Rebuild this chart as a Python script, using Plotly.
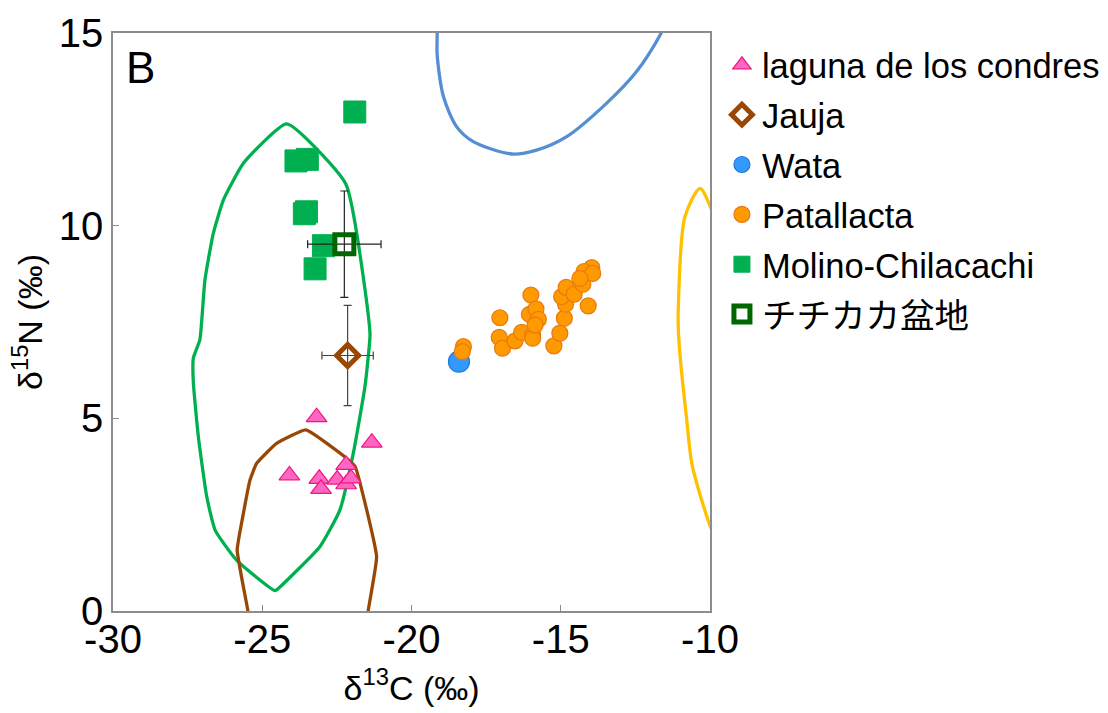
import plotly.graph_objects as go

# ---- data ----
laguna_x = [-23.18, -21.33, -24.09, -23.09, -23.03, -22.19, -22.49, -22.19, -22.03]
laguna_y = [5.03, 4.37, 3.52, 3.43, 3.17, 3.79, 3.41, 3.29, 3.44]

jauja_x = [-22.14]
jauja_y = [6.63]
jauja_xerr = [0.86]
jauja_yerr = [1.30]

wata_x = [-18.41]
wata_y = [6.47]

patallacta_x = [-18.26, -18.30, -17.04, -17.06, -16.95, -16.53, -16.31, -16.00, -16.05, -15.83,
                -15.75, -15.94, -15.94, -15.86, -15.23, -15.03, -14.88, -14.84, -14.97, -14.82,
                -14.55, -14.08, -14.26, -13.96, -14.22, -13.93, -14.36]
patallacta_y = [6.86, 6.73, 7.61, 7.10, 6.82, 7.01, 7.23, 8.20, 7.70, 7.84,
                7.57, 7.16, 7.08, 7.42, 6.88, 7.21, 7.60, 7.96, 8.16, 8.40,
                8.22, 7.92, 8.48, 8.91, 8.81, 8.76, 8.63]

molino_x = [-21.90, -23.87, -23.49, -23.59, -23.52, -22.95, -23.23]
molino_y = [12.95, 11.68, 11.72, 10.31, 10.36, 9.48, 8.88]

titicaca_x = [-22.25]
titicaca_y = [9.52]
titicaca_xerr = [1.23]
titicaca_yerr = [1.38]

# contour outlines
green_cx = [-24.18, -22.20, -21.39, -21.45, -21.56, -21.95, -22.40, -23.07, -24.40, -24.57,
            -25.86, -26.58, -26.86, -27.14, -27.31, -27.31, -27.09, -26.92, -26.64, -26.30,
            -25.63, -24.18]
green_cy = [12.64, 11.08, 7.20, 6.60, 5.82, 4.09, 2.62, 1.67, 0.63, 0.53,
            1.32, 2.10, 2.97, 4.52, 5.95, 6.56, 7.04, 8.59, 9.80, 10.67,
            11.62, 12.64]

brown_cx = [-25.30, -25.48, -25.84, -25.63, -25.41, -25.19, -24.52, -23.54, -22.17, -21.89,
            -21.17, -21.45, -21.52]
brown_cy = [-1.00, 0.00, 1.58, 2.54, 3.40, 3.83, 4.35, 4.70, 3.96, 3.75,
            1.41, 0.00, -1.00]

blue_cx = [-19.14, -19.14, -19.14, -18.93, -18.49, -17.93, -16.64, -15.81, -14.80, -13.46,
           -12.46, -11.67, -11.40]
blue_cy = [15.50, 14.95, 14.43, 13.35, 12.57, 12.18, 11.86, 11.96, 12.31, 13.18,
           14.00, 14.95, 15.40]

yellow_cx = [-9.80, -9.94, -10.33, -10.84, -11.06, -11.06, -10.98, -10.78, -10.61, -10.28,
             -9.94, -9.80]
yellow_cy = [10.20, 10.41, 10.97, 10.23, 7.90, 7.29, 6.43, 4.96, 3.83, 2.88,
             2.10, 1.90]

x_ticks = [-30, -25, -20, -15, -10]
y_ticks = [0, 5, 10, 15]

FONT = "Arial, Liberation Sans, Noto Sans CJK JP, sans-serif"

fig = go.Figure()

# contours (no legend)
for cx, cy, col, sm in [(green_cx, green_cy, "#00B050", 0.45), (brown_cx, brown_cy, "#984806", 0.35),
                        (blue_cx, blue_cy, "#558ED5", 0.8), (yellow_cx, yellow_cy, "#FFC000", 0.8)]:
    fig.add_trace(go.Scatter(x=cx, y=cy, mode="lines",
                             line=dict(color=col, width=3.3, shape="spline", smoothing=sm),
                             showlegend=False, hoverinfo="skip"))

fig.add_trace(go.Scatter(x=laguna_x, y=laguna_y, mode="markers", name="laguna de los condres",
                         legendgroup="g1",
                         marker=dict(symbol="triangle-up", size=18, color="#FF66C4",
                                     line=dict(color="#F0167E", width=1.2))))
fig.add_trace(go.Scatter(x=jauja_x, y=jauja_y, mode="markers", name="Jauja", legendgroup="g2",
                         error_x=dict(type="data", array=jauja_xerr, color="#444444", thickness=1.2, width=4),
                         error_y=dict(type="data", array=jauja_yerr, color="#444444", thickness=1.2, width=4),
                         marker=dict(symbol="diamond", size=17, color="rgba(255,255,255,0)",
                                     line=dict(color="#984806", width=5))))
fig.add_trace(go.Scatter(x=wata_x, y=wata_y, mode="markers", name="Wata", legendgroup="g3",
                         marker=dict(symbol="circle", size=21, color="#3399FF",
                                     line=dict(color="#1F78D8", width=1.2))))
fig.add_trace(go.Scatter(x=patallacta_x, y=patallacta_y, mode="markers", name="Patallacta",
                         legendgroup="g4",
                         marker=dict(symbol="circle", size=16, color="#FF9900",
                                     line=dict(color="#E87A0C", width=1.2))))
fig.add_trace(go.Scatter(x=molino_x, y=molino_y, mode="markers", name="Molino-Chilacachi",
                         legendgroup="g5",
                         marker=dict(symbol="square", size=22, color="#00B050",
                                     line=dict(color="#00B050", width=1))))
fig.add_trace(go.Scatter(x=titicaca_x, y=titicaca_y, mode="markers", name="チチカカ盆地",
                         legendgroup="g6",
                         error_x=dict(type="data", array=titicaca_xerr, color="#222222", thickness=1.2, width=4),
                         error_y=dict(type="data", array=titicaca_yerr, color="#222222", thickness=1.2, width=4),
                         marker=dict(symbol="square", size=19, color="rgba(255,255,255,0)",
                                     line=dict(color="#006600", width=5))))

fig.add_annotation(x=0.0, y=1.0, xref="paper", yref="paper", text="B", showarrow=False,
                   xanchor="left", yanchor="top", xshift=11, yshift=-8,
                   font=dict(size=44, color="black", family=FONT))

axis_common = dict(showgrid=False, zeroline=False, showline=True, linecolor="#8C8C8C",
                   linewidth=1.5, mirror=True, ticks="inside", ticklen=6, tickcolor="#8C8C8C",
                   tickfont=dict(size=40, color="black", family=FONT))

fig.update_xaxes(range=[-30, -10], tickvals=x_ticks, ticktext=[str(v) for v in x_ticks],
                 ticklabelstandoff=-8,
                 title=dict(text="δ<sup>13</sup>C (‰)", font=dict(size=34, color="black", family=FONT),
                            standoff=16),
                 **axis_common)
fig.update_yaxes(range=[0, 15], tickvals=y_ticks, ticktext=[str(v) for v in y_ticks],
                 title=dict(text="δ<sup>15</sup>N (‰)", font=dict(size=34, color="black", family=FONT),
                            standoff=6),
                 **axis_common)

fig.update_layout(
    width=1108, height=713,
    margin=dict(l=113, r=398, t=33, b=102, autoexpand=False),
    paper_bgcolor="white", plot_bgcolor="white",
    font=dict(family=FONT, color="black"),
    legend=dict(x=1.02, y=0.995, xanchor="left", yanchor="top",
                font=dict(size=34.5, color="black", family=FONT),
                bgcolor="rgba(0,0,0,0)", itemsizing="trace", tracegroupgap=2),
)

fig.write_html("out.html")
